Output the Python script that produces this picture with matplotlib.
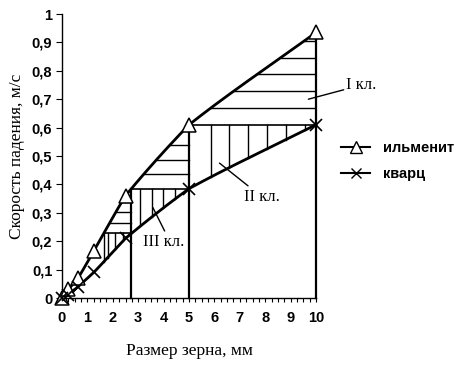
import numpy as np
import matplotlib
matplotlib.use("Agg")
import matplotlib.pyplot as plt
from matplotlib.lines import Line2D

# ---- data ----
sizes = [0, 0.25, 0.63, 1.25, 2.5, 5, 10]          # grain size, mm
ilmenite = [0, 0.03, 0.07, 0.165, 0.36, 0.61, 0.935]  # m/s
quartz = [0, 0.01, 0.04, 0.09, 0.21, 0.385, 0.61]     # m/s
class_top = 10                                      # largest size
class_names = ["I кл.", "II кл.", "III кл."]
x_ticks = list(range(0, 11))
y_ticks = [round(0.1 * i, 1) for i in range(0, 11)]
y_tick_labels = ["0"] + [f"0,{i}" for i in range(1, 10)] + ["1"]

# ---- style ----
h_step = [0.059, 0.051, 0.037]
v_step = [0.74, 0.45, 0.30]
v_off = [0.85, 0.35, 0.15]
smooth = 0.35   # amount of curve smoothing between points


def pchip(xk, yk, xs):
    """Monotone cubic (Fritsch-Carlson) through the data points."""
    xk = np.asarray(xk, float)
    yk = np.asarray(yk, float)
    h = np.diff(xk)
    d = np.diff(yk) / h
    n = len(xk)
    m = np.zeros(n)
    for i in range(1, n - 1):
        if d[i - 1] * d[i] > 0:
            w1 = 2 * h[i] + h[i - 1]
            w2 = h[i] + 2 * h[i - 1]
            m[i] = (w1 + w2) / (w1 / d[i - 1] + w2 / d[i])
    m[0] = d[0]
    m[-1] = d[-1]
    xs = np.asarray(xs, float)
    idx = np.clip(np.searchsorted(xk, xs) - 1, 0, n - 2)
    t = (xs - xk[idx]) / h[idx]
    h00 = 2 * t**3 - 3 * t**2 + 1
    h10 = t**3 - 2 * t**2 + t
    h01 = -2 * t**3 + 3 * t**2
    h11 = t**3 - t**2
    return (h00 * yk[idx] + h10 * h[idx] * m[idx]
            + h01 * yk[idx + 1] + h11 * h[idx] * m[idx + 1])


def curve(xk, yk, xs):
    return smooth * pchip(xk, yk, xs) + (1 - smooth) * np.interp(xs, xk, yk)


xs_dense = np.linspace(0, 10, 2001)
ilm_dense = curve(sizes, ilmenite, xs_dense)
q_dense = curve(sizes, quartz, xs_dense)


def ilm(x):
    return np.interp(x, xs_dense, ilm_dense)


def qz(x):
    return np.interp(x, xs_dense, q_dense)


def ilm_inv(y):
    return np.interp(y, ilm_dense, xs_dense)


fig = plt.figure(figsize=(4.66, 3.69), dpi=100)
ax = fig.add_axes([62/466, 1-298/369, (316-62)/466, (298-14)/369])

# equal-falling class boundaries
bounds = [class_top]
levels = []
for k in range(3):
    L = qz(bounds[-1])
    levels.append(L)
    bounds.append(ilm_inv(L))

lw_h = 1.0
for k in range(3):
    xr, xl, L = bounds[k], bounds[k + 1], levels[k]
    ax.plot([xr, xr], [0, ilm(xr)], color="black", lw=1.6, clip_on=False, zorder=2)
    ax.plot([xl, xr], [L, L], color="black", lw=1.2, zorder=2)
    y = L + h_step[k]
    while y < ilm(xr) - 0.03:
        ax.plot([ilm_inv(y), xr], [y, y], color="black", lw=lw_h, zorder=2)
        y += h_step[k]
    x = xl + v_off[k]
    while qz(x) < L - 0.02:
        ax.plot([x, x], [qz(x), L], color="black", lw=lw_h, zorder=2)
        x += v_step[k]
xl = bounds[3]
ax.plot([xl, xl], [qz(xl), levels[2]], color="black", lw=1.0, zorder=2)

# curves and markers
ax.plot(xs_dense, ilm_dense, color="black", lw=2.0, clip_on=False, zorder=3)
ax.plot(xs_dense, q_dense, color="black", lw=2.0, clip_on=False, zorder=3)
ax.plot(sizes, ilmenite, ls="none", marker="^", ms=10,
        mfc="white", mec="black", mew=1.1, clip_on=False, zorder=4)
ax.plot(sizes, quartz, ls="none", color="black", marker="x", ms=9,
        mew=1.2, clip_on=False, zorder=4)

# annotations
serif = "Liberation Serif"
ax.annotate(class_names[0], xy=(9.7, 0.70), xytext=(11.2, 0.75),
            fontsize=12, family=serif, va="center", ha="left",
            arrowprops=dict(arrowstyle="-", color="black", lw=1.0,
                            shrinkA=0, shrinkB=0), annotation_clip=False)
ax.annotate(class_names[1], xy=(6.2, 0.475), xytext=(7.15, 0.357),
            fontsize=12, family=serif, va="center", ha="left",
            arrowprops=dict(arrowstyle="-", color="black", lw=1.0,
                            shrinkA=0, shrinkB=0))
ax.annotate(class_names[2], xy=(3.53, 0.327), xytext=(3.2, 0.198),
            fontsize=12, family=serif, va="center", ha="left",
            arrowprops=dict(arrowstyle="-", color="black", lw=1.0,
                            shrinkA=0, shrinkB=2, relpos=(0.55, 1.0)))

# axes styling
ax.set_xlim(0, 10)
ax.set_ylim(0, 1)
for s in ["top", "right"]:
    ax.spines[s].set_visible(False)
for s in ["left", "bottom"]:
    ax.spines[s].set_linewidth(1.0)
ax.set_xticks(x_ticks)
ax.set_xticks(np.arange(0, 10.01, 0.25), minor=True)
ax.set_yticks(y_ticks)
ax.set_yticklabels(y_tick_labels)
ax.tick_params(axis="x", which="both", direction="out", length=3, width=0.8,
               labelsize=10.5, pad=6)
ax.tick_params(axis="y", which="major", direction="out", length=4, width=0.8,
               labelsize=10.5, pad=3)
for lab in ax.get_xticklabels() + ax.get_yticklabels():
    lab.set_family("Liberation Sans")
    lab.set_weight("semibold")

ax.set_xlabel("Размер зерна, мм", fontsize=12.5, family=serif, labelpad=13)
ax.set_ylabel("Скорость падения, м/с", fontsize=12.5, family=serif, labelpad=5)

handles = [
    Line2D([], [], color="black", lw=1.5, marker="^", ms=8, mfc="white", mec="black"),
    Line2D([], [], color="black", lw=1.5, marker="x", ms=7),
]
fig.legend(handles, ["ильменит", "кварц"], loc="upper left",
           bbox_to_anchor=(328/466, 1-128/369), frameon=False,
           prop=dict(family="Liberation Sans", weight="bold", size=10.5),
           handlelength=2.0, handletextpad=0.9, labelspacing=0.8)

fig.savefig("out.png", dpi=100)
